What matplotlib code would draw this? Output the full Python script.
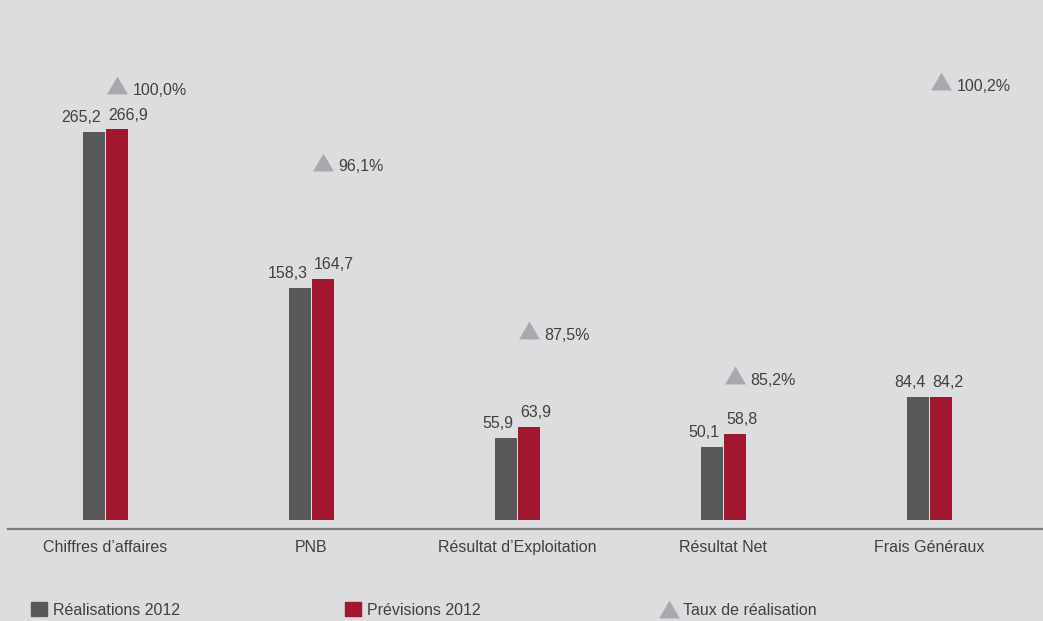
"""Réalisations vs prévisions 2012, avec taux de réalisation."""
import numpy as np
import matplotlib
matplotlib.use('Agg')
import matplotlib.pyplot as plt
from matplotlib.patches import Patch
from matplotlib.lines import Line2D

categories = ["Chiffres d\u2019affaires", "PNB", "Résultat d\u2019Exploitation",
              "Résultat Net", "Frais Généraux"]
realisations = [265.2, 158.3, 55.9, 50.1, 84.4]
previsions = [266.9, 164.7, 63.9, 58.8, 84.2]
taux = [100.0, 96.1, 87.5, 85.2, 100.2]

BG = '#dcdddf'
GRAY = '#58585a'
RED = '#a0172f'
TRI = '#a8a9ac'
TXT = '#404041'
# slightly flattened triangle
TRI_MARKER = [(-1, -0.857), (1, -0.857), (0, 0.857), (-1, -0.857)]

plt.rcParams['font.family'] = ['Liberation Sans', 'DejaVu Sans']
plt.rcParams['font.size'] = 11.5


def fmt(v, suffix=''):
    return '{:.1f}'.format(v).replace('.', ',') + suffix


W, H = 1043, 621
fig = plt.figure(figsize=(W / 100, H / 100), dpi=100, facecolor=BG)
ax = fig.add_axes([8 / W, 1 - 529 / H, 1 - 8 / W, 529 / H])
ax.set_facecolor(BG)

x = np.arange(len(categories))
width = 0.106
off = 0.057
b1 = ax.bar(x - off, realisations, width, color=GRAY, zorder=2)
b2 = ax.bar(x + off, previsions, width, color=RED, zorder=2)

for xi, v in zip(x, realisations):
    ax.annotate(fmt(v), (xi, v), xytext=(-3, 5), textcoords='offset points',
                ha='right', va='bottom', color=TXT)
for xi, v in zip(x, previsions):
    ax.annotate(fmt(v), (xi, v), xytext=(2, 5), textcoords='offset points',
                ha='left', va='bottom', color=TXT)

ax.set_xlim(-0.473, 4.551)
ax.set_ylim(-6.15, 355.4)
ax.set_xticks(x)
ax.set_xticklabels(categories, color=TXT)
ax.tick_params(axis='x', length=0, pad=8)
ax.set_yticks([])
for s in ('top', 'right', 'left'):
    ax.spines[s].set_visible(False)
ax.spines['bottom'].set_color('#7c7c7e')
ax.spines['bottom'].set_linewidth(1.6)

# taux de réalisation on its own scale
ax2 = ax.twinx()
ax2.set_ylim(77.35, 104.34)
ax2.set_yticks([])
for s in ax2.spines.values():
    s.set_visible(False)
tri, = ax2.plot(x + off, taux, linestyle='none', marker=TRI_MARKER, markersize=15,
                color=TRI, markeredgewidth=0, zorder=3)
for xi, t in zip(x + off, taux):
    ax2.annotate(fmt(t, '%'), (xi, t), xytext=(11, -7), textcoords='offset points',
                 ha='left', va='baseline', color=TXT)

# legend entries spread along the bottom
handles = [Patch(color=GRAY), Patch(color=RED),
           Line2D([], [], linestyle='none', marker=TRI_MARKER, markersize=15,
                  color=TRI, markeredgewidth=0)]
labels = ['Réalisations 2012', 'Prévisions 2012', 'Taux de réalisation']
xs = [31, 345, 661]
for h, lab, lx in zip(handles, labels, xs):
    fig.legend([h], [lab], loc='center left', bbox_to_anchor=(lx / W, 1 - 610 / H),
               frameon=False, borderpad=0, borderaxespad=0, handlelength=1.0,
               handleheight=1.0, handletextpad=0.4, labelcolor=TXT)

fig.savefig('out.png', dpi=100, facecolor=BG)
